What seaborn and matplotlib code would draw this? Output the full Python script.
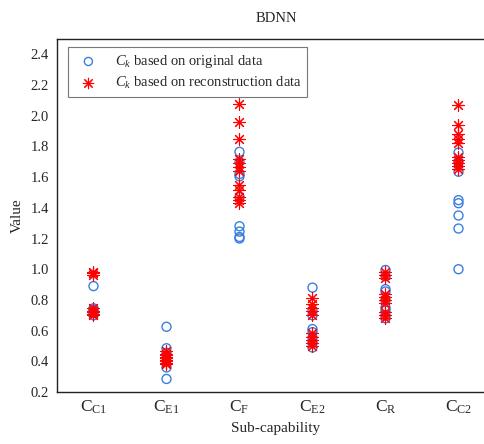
import matplotlib
matplotlib.use("Agg")
import matplotlib.pyplot as plt
import seaborn as sns
import pandas as pd

categories = ["C1", "E1", "F", "E2", "R", "C2"]
tick_labels = [r"$\mathrm{C}_{\mathrm{C1}}$", r"$\mathrm{C}_{\mathrm{E1}}$", r"$\mathrm{C}_{\mathrm{F}}$",
               r"$\mathrm{C}_{\mathrm{E2}}$", r"$\mathrm{C}_{\mathrm{R}}$", r"$\mathrm{C}_{\mathrm{C2}}$"]

original_C1 = [0.89, 0.745, 0.735, 0.725, 0.715, 0.70]
original_E1 = [0.625, 0.485, 0.455, 0.36, 0.285]
original_F = [1.765, 1.70, 1.62, 1.605, 1.47, 1.28, 1.245, 1.21, 1.20]
original_E2 = [0.88, 0.73, 0.70, 0.61, 0.59, 0.555, 0.52, 0.49]
original_R = [0.995, 0.955, 0.87, 0.855, 0.80, 0.75, 0.73, 0.70, 0.68]
original_C2 = [1.76, 1.70, 1.635, 1.45, 1.43, 1.35, 1.265, 1.00]

recon_C1 = [0.985, 0.975, 0.965, 0.745, 0.73, 0.72, 0.71, 0.70]
recon_E1 = [0.465, 0.45, 0.44, 0.43, 0.42, 0.41, 0.40, 0.39, 0.38]
recon_F = [2.075, 1.96, 1.85, 1.72, 1.69, 1.665, 1.64, 1.55, 1.515, 1.47, 1.45, 1.43]
recon_E2 = [0.815, 0.775, 0.745, 0.725, 0.70, 0.585, 0.56, 0.54, 0.52, 0.50]
recon_R = [0.98, 0.965, 0.945, 0.84, 0.82, 0.80, 0.78, 0.72, 0.70, 0.68]
recon_C2 = [2.07, 1.94, 1.88, 1.85, 1.82, 1.73, 1.71, 1.69, 1.67, 1.65]

original = [original_C1, original_E1, original_F, original_E2, original_R, original_C2]
recon = [recon_C1, recon_E1, recon_F, recon_E2, recon_R, recon_C2]

def to_df(groups):
    rows = []
    for i, (cat, vals) in enumerate(zip(categories, groups)):
        for v in vals:
            rows.append({"cat": cat, "pos": i, "value": v})
    return pd.DataFrame(rows)

df_o = to_df(original)
df_r = to_df(recon)

sns.set_theme(style="white")
plt.rcParams["font.family"] = ["Liberation Serif", "DejaVu Serif"]
plt.rcParams["mathtext.fontset"] = "custom"
plt.rcParams["mathtext.rm"] = "Liberation Serif"
plt.rcParams["mathtext.it"] = "Liberation Serif:italic"

fig = plt.figure(figsize=(4.85, 4.44), dpi=100)
ax = fig.add_axes([57 / 485, 1 - 392 / 444, (495 - 57) / 485, (392 - 39) / 444])

blue = "#3A7FE0"
red = "#FF0000"
sns.scatterplot(data=df_o, x="pos", y="value", ax=ax, marker="o", s=42,
                facecolors="none", edgecolor=blue, linewidth=1.0,
                label=r"$C_k$ based on original data", zorder=3)
sns.scatterplot(data=df_r, x="pos", y="value", ax=ax, marker=(8, 2, 0), s=70,
                color=red, linewidth=0.8,
                label=r"$C_k$ based on reconstruction data", zorder=4)

ax.set_xlim(-0.5, 5.5)
ax.set_ylim(0.2, 2.5)
ax.set_xticks(range(len(categories)))
ax.set_xticklabels(tick_labels, fontsize=12.5)
ax.set_yticks([0.2, 0.4, 0.6, 0.8, 1.0, 1.2, 1.4, 1.6, 1.8, 2.0, 2.2, 2.4])
ax.set_yticklabels([f"{v:.1f}" for v in ax.get_yticks()], fontsize=10.5)
ax.tick_params(axis="x", direction="in", length=4, width=1, color="#222222", pad=5)
ax.tick_params(axis="y", direction="out", length=4, width=1, color="#222222", pad=2)
for s in ax.spines.values():
    s.set_color("#222222")
    s.set_linewidth(1.0)
ax.set_xlabel("Sub-capability", fontsize=11, labelpad=4)
ax.set_ylabel("Value", fontsize=11, labelpad=5)
ax.set_title("BDNN", fontsize=10.5, pad=12)
ax.grid(False)

leg = ax.legend(loc="upper left", bbox_to_anchor=(0.025, 0.976), fontsize=10.5,
                frameon=True, fancybox=False, edgecolor="#777777", framealpha=1,
                borderpad=0.4, labelspacing=0.3, handletextpad=0.8, borderaxespad=0,
                markerscale=0.9)
leg.get_frame().set_linewidth(0.8)

fig.savefig("out.png", dpi=100)
